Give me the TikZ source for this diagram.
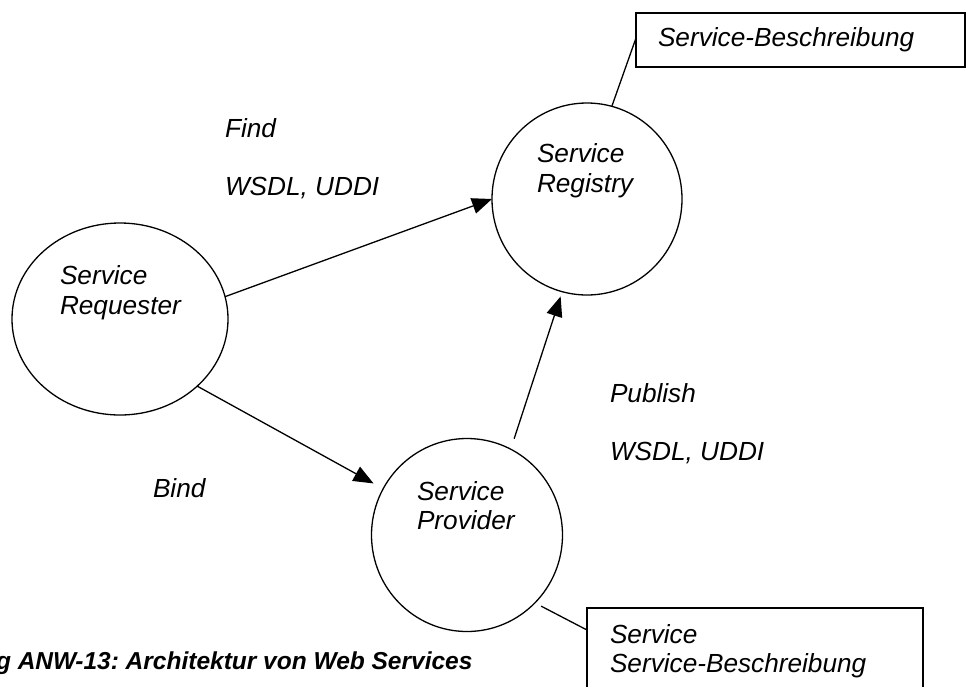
\documentclass[tikz,border=0pt]{standalone}
\usepackage{fontspec}
\setmainfont{Liberation Sans}
\usetikzlibrary{arrows.meta,shapes.geometric}
\frenchspacing
\begin{document}
\begin{tikzpicture}[x=1pt,y=-1pt,
  every node/.style={inner sep=0pt, outer sep=0pt},
  lbl/.style={font=\fontsize{26.2}{30}\selectfont\itshape, anchor=base west, align=left},
  captext/.style={font=\fontsize{24.5}{29}\selectfont\bfseries\itshape, anchor=base west},
  ent/.style={draw, line width=1.3pt, ellipse},
  conn/.style={line width=1.3pt},
  arr/.style={conn, -{Triangle[length=20pt,width=16pt]}},
  desc/.style={draw, line width=1.3pt, rectangle}]
\clip (0,0) rectangle (967,686);
\fill[white] (0,0) rectangle (967,686);
% entities
\node[ent, minimum width=216pt, minimum height=192pt] (req) at (120,319) {};
\node[ent, minimum width=190pt, minimum height=192pt] (reg) at (587,199) {};
\node[ent, minimum width=191pt, minimum height=193pt] (prov) at (467,535) {};
% entity texts
\node[lbl] (reqt1) at (60,284) {Service};
\node[lbl] (reqt2) at (60,314) {Requester};
\node[lbl] (regt1) at (537,162) {Service};
\node[lbl] (regt2) at (537,192) {Registry};
\node[lbl] (provt1) at (417,500) {Service};
\node[lbl] (provt2) at (417,529) {Provider};
% description boxes
\node[desc, minimum width=329pt, minimum height=54pt] (topbox) at (800.5,40) {};
\node[lbl] (topt) at (658,46) {Service-Beschreibung};
\node[desc, minimum width=336pt, minimum height=110pt] (botbox) at (755,663) {};
\node[lbl] (bott1) at (610,643) {Service};
\node[lbl] (bott2) at (610,672) {Service-Beschreibung};
% edge labels
\node[lbl] (find) at (225,137) {Find};
\node[lbl] (findw) at (225,195) {WSDL, UDDI};
\node[lbl] (pub) at (610,402) {Publish};
\node[lbl] (pubw) at (610,460) {WSDL, UDDI};
\node[lbl] (bind) at (153,497) {Bind};
% connectors
\draw[arr] (req.12.5) -- (reg.180);
\draw[arr, shorten >=11pt] (req.-41) -- (prov);
\draw[arr, shorten <=11pt, shorten >=5pt] (prov.63) -- (reg.-105);
\draw[conn] (reg.75) -- ([yshift=2pt]topbox.west);
\draw[conn, shorten <=7pt] (prov.-45) -- ([yshift=-22pt]botbox.north west);
% caption (cut at the left edge, as in the reference)
\node[captext] (caption) at (-4,669) {g ANW-13: Architektur von Web Services};
\end{tikzpicture}
\end{document}
